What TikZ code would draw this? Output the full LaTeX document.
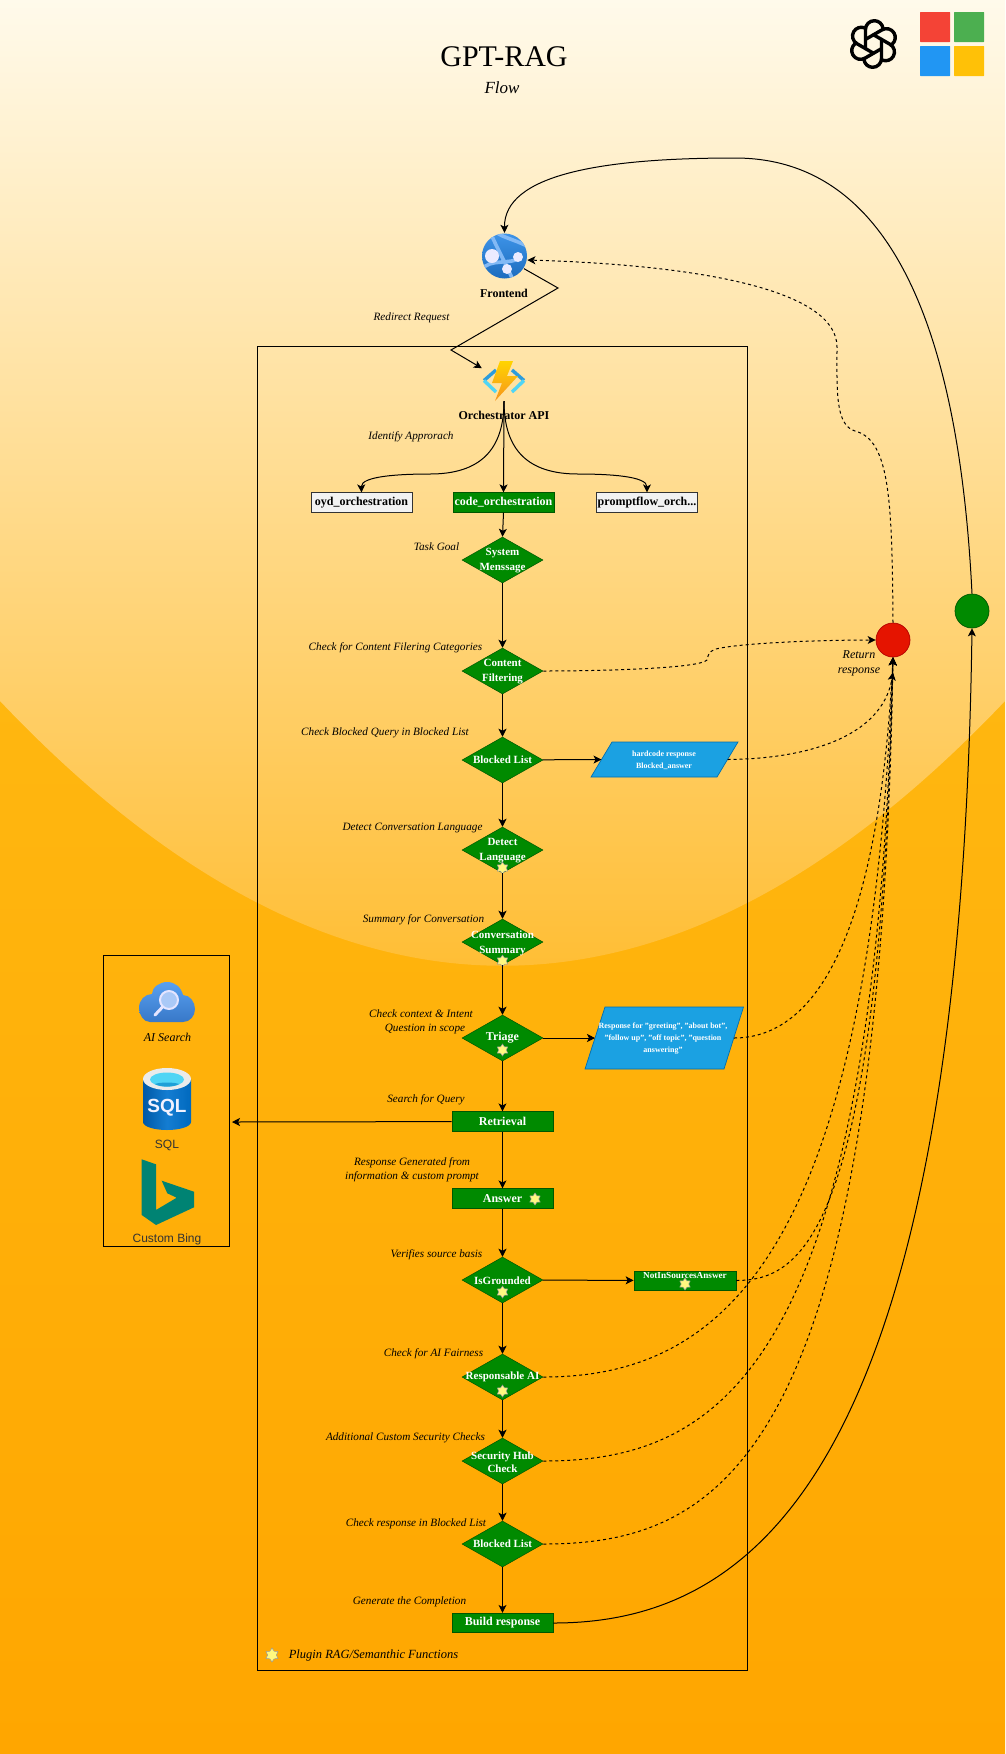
\documentclass[tikz,border=0pt]{standalone}
\usepackage{fontspec}
\setmainfont{Liberation Serif}
\setsansfont{Liberation Sans}
\usetikzlibrary{arrows.meta,positioning,shapes.geometric,calc}
\definecolor{raggreen}{HTML}{008A00}
\definecolor{ragdkgreen}{HTML}{005700}
\definecolor{ragblue}{HTML}{1BA1E2}
\definecolor{ragdkblue}{HTML}{006EAF}
\definecolor{ragred}{HTML}{E51400}
\definecolor{ragdkred}{HTML}{B20000}
\definecolor{ragteal}{HTML}{008373}
\definecolor{bgtop}{HTML}{FFFAEB}
\definecolor{bgmid}{HTML}{FFBE35}
\definecolor{bglow}{HTML}{FFB710}
\definecolor{bgend}{HTML}{FFA600}
\tikzset{
  flow/.style={-{Stealth[length=8pt,width=8pt,inset=2pt]},line width=1pt,black},
  retflow/.style={flow,dash pattern=on 3pt off 3pt},
  dmd/.style={diamond,aspect=1.76,minimum width=81pt,minimum height=46pt,inner sep=0pt,
    fill=raggreen,draw=ragdkgreen,line width=.5pt},
  dmdtxt/.style={text=white,align=center,font=\fontsize{11}{15}\selectfont\bfseries},
  stepbox/.style={rectangle,minimum width=101pt,minimum height=19.5pt,inner sep=0pt,
    fill=raggreen,draw=ragdkgreen,line width=.7pt,text=white,
    font=\fontsize{12}{14}\selectfont\bfseries},
  altbox/.style={stepbox,fill=white!95!black,draw=black!80,text=black},
  parabox/.style={fill=ragblue,draw=ragdkblue,line width=.7pt},
  paratxt/.style={text=white,align=center,font=\fontsize{8}{12}\selectfont\bfseries},
  note/.style={align=center,inner sep=0pt,font=\fontsize{11.2}{14}\selectfont\itshape},
  plugstar/.style={star,star points=6,star point ratio=1.6,minimum size=12pt,inner sep=0pt,
    fill=yellow!50!white,draw=black!40,line width=.5pt},
  iconlbl/.style={inner sep=0pt,font=\fontsize{12}{14}\selectfont\sffamily,text=black!80},
  dot/.style={circle,minimum size=34pt,inner sep=0pt,line width=.7pt},
}
\begin{document}
\begin{tikzpicture}[x=1pt,y=-1pt]
  \useasboundingbox (0,0) rectangle (1005,1754);

  % ---- Background ----------------------------------------------
  \shade[top color=bglow,bottom color=bgend] (0,690) rectangle (1005,1754);
  \begin{scope}
    \clip (0,0) -- (0,701) .. controls (335,1054) and (670,1054) .. (1005,701) -- (1005,0) -- cycle;
    \shade[top color=bgtop,bottom color=bgmid] (0,0) rectangle (1005,966);
  \end{scope}

  % ---- Title and logos -----------------------------------------
  \node[font=\fontsize{30}{34}\selectfont,inner sep=0pt] (title) at (504,57) {GPT-RAG};
  \node[font=\fontsize{17}{20}\selectfont\itshape,inner sep=0pt] (subtitle) at (502,88) {Flow};
  % OpenAI knot
  \foreach \a in {0,60,...,300}{
    \draw[black,line width=3.4pt,line cap=round,line join=round,shift={(873.5,44)},rotate=\a]
      (8,-4.6) -- (8,14.5) arc (0:172:8.8);
  }
  % Four squares
  \fill[rounded corners=.5pt,fill={rgb,255:red,244;green,67;blue,54}] (920,12) rectangle (950,42);
  \fill[rounded corners=.5pt,fill={rgb,255:red,76;green,175;blue,80}] (954,12) rectangle (984,42);
  \fill[rounded corners=.5pt,fill={rgb,255:red,33;green,150;blue,243}] (920,46) rectangle (950,76);
  \fill[rounded corners=.5pt,fill={rgb,255:red,255;green,193;blue,7}] (954,46) rectangle (984,76);

  % ---- Plugin frame --------------------------------------------
  \draw[black,line width=1pt] (257,346) rectangle (747.5,1670);

  % ---- Frontend icon -------------------------------------------
  \node[circle,minimum size=46pt,inner sep=0pt] (front) at (504.5,256) {};
  \begin{scope}
    \clip (504.5,256) circle (22.5);
    \shade[top color={rgb,255:red,62;green,148;blue,232},bottom color={rgb,255:red,28;green,108;blue,190}]
      (482,233) rectangle (527,279);
    \draw[line width=3.6pt,color={rgb,255:red,130;green,185;blue,245}]
      (491,234) .. controls (498,250) and (505,262) .. (512,278)
      (527,246) .. controls (515,240) and (505,238) .. (497,233)
      (481,270) .. controls (490,258) and (510,265) .. (520,258);
  \end{scope}
  \fill[white!92!blue] (492,256) circle (7);
  \fill[white!92!blue] (518,257) circle (5);
  \fill[white!92!blue] (507,269) circle (5);
  \node[font=\fontsize{12}{14}\selectfont\bfseries,inner sep=0pt] (frontlbl) at (504,293) {Frontend};

  % ---- Orchestrator icon ---------------------------------------
  \node[rectangle,minimum width=44pt,minimum height=40pt,inner sep=0pt] (orch) at (504,381) {};
  \draw[line width=3.4pt,color={rgb,255:red,45;green,156;blue,219}] (496,370) -- (484,380.5) (512,370) -- (524,380.5);
  \draw[line width=3.4pt,color={rgb,255:red,80;green,213;blue,245}] (484,380.5) -- (496,392) (524,380.5) -- (512,392);
  \shade[top color={rgb,255:red,255;green,212;blue,0},bottom color={rgb,255:red,247;green,148;blue,29}]
    (500,361) -- (513,361) -- (507,376) -- (518,376) -- (495,401) -- (502,383) -- (492,383) -- cycle;
  \node[font=\fontsize{12}{14}\selectfont\bfseries,inner sep=0pt] (orchlbl) at (504,415) {Orchestrator API};

  % ---- Orchestration choices -----------------------------------
  \node[altbox] (oyd) at (361.5,502.5) {oyd\_orchestration};
  \node[stepbox] (code) at (503.5,502.5) {code\_orchestration};
  \node[altbox] (pflow) at (647,502.5) {promptflow\_orch...};

  % ---- Main column ---------------------------------------------
  \node[dmd] (sysmsg) at (502.5,560) {};
  \node[dmdtxt] (sysmsgtxt) at (502.5,560.5) {System\\Menssage};
  \node[dmd] (filter) at (502.5,671) {};
  \node[dmdtxt] (filtertxt) at (502.5,672) {Content\\Filtering};
  \node[dmd] (blockq) at (502.5,760) {};
  \node[dmdtxt] (blockqtxt) at (502.5,759.5) {Blocked List};
  \node[dmd] (detect) at (502.5,850) {};
  \node[dmdtxt] (detecttxt) at (502.5,851) {Detect\\Language};
  \node[plugstar] (stardetect) at (502.5,868) {};
  \node[dmd] (summary) at (502.5,942) {};
  \node[dmdtxt] (summarytxt) at (502.5,943) {Conversation\\Summary};
  \node[plugstar] (starsummary) at (502.5,961) {};
  \node[dmd] (triage) at (502.5,1038) {};
  \node[dmdtxt,font=\fontsize{12}{14}\selectfont\bfseries] (triagetxt) at (502.5,1037.5) {Triage};
  \node[plugstar] (startriage) at (502.5,1050) {};
  \node[stepbox] (retr) at (502.5,1121.5) {Retrieval};
  \node[stepbox] (answer) at (502.5,1198.5) {Answer};
  \node[plugstar] (staranswer) at (535,1199) {};
  \node[dmd] (grounded) at (502.5,1280) {};
  \node[dmdtxt] (groundedtxt) at (502.5,1280.5) {IsGrounded};
  \node[plugstar] (stargrounded) at (502.5,1292) {};
  \node[dmd] (respai) at (502.5,1377) {};
  \node[dmdtxt] (respaitxt) at (502.5,1377) {Responsable AI};
  \node[plugstar] (starrespai) at (502.5,1391) {};
  \node[dmd] (sechub) at (502.5,1461) {};
  \node[dmdtxt,font=\fontsize{11}{12.5}\selectfont\bfseries] (sechubtxt) at (502.5,1462) {Security Hub\\Check};
  \node[dmd] (blockr) at (502.5,1544) {};
  \node[dmdtxt] (blockrtxt) at (502.5,1544) {Blocked List};
  \node[stepbox] (build) at (502.5,1623) {Build response};

  % ---- Side outputs --------------------------------------------
  \draw[parabox] (612,742) -- (738,742) -- (717,777) -- (591,777) -- cycle;
  \coordinate (hardcin) at (601.5,759.5);
  \coordinate (hardcout) at (727.5,759.5);
  \node[paratxt] (hardc) at (664,760) {hardcode response\\Blocked\_answer};
  \draw[parabox] (605,1007) -- (743.5,1007) -- (724,1069) -- (585,1069) -- cycle;
  \coordinate (respin) at (595,1038);
  \coordinate (respout) at (734,1038);
  \node[paratxt] (resp) at (663,1039) {Response for "greeting", "about bot",\\"follow up", "off topic", "question\\answering"};
  \node[stepbox,minimum width=102pt,minimum height=19pt] (notin) at (685,1280.5) {};
  \node[dmdtxt,font=\fontsize{9.2}{12}\selectfont\bfseries] (notintxt) at (685,1275) {NotInSourcesAnswer};
  \node[plugstar] (starnotin) at (685,1284) {};

  % ---- Return points -------------------------------------------
  \node[dot,fill=ragred,draw=ragdkred] (retn) at (893,640) {};
  \node[dot,fill=raggreen,draw=ragdkgreen] (done) at (972,611) {};
  \node[note,font=\fontsize{12}{15}\selectfont\itshape] (retnlbl) at (859,663.5) {Return\\response};

  % ---- Data sources --------------------------------------------
  \draw[black,line width=1pt] (103,955) rectangle (229,1246);
  \coordinate (srcedge) at (232,1122);
  % Cloud with lens
  \shade[top color={rgb,255:red,88;green,160;blue,240},bottom color={rgb,255:red,56;green,120;blue,200}]
    (150,1022) .. controls (143,1022) and (139,1014) .. (139,1008)
    .. controls (139,1000) and (145,994) .. (152,994)
    .. controls (152,987) and (160,982) .. (167,982)
    .. controls (175,982) and (181,987) .. (183,995)
    .. controls (190,995) and (195,1002) .. (195,1009)
    .. controls (195,1016) and (190,1022) .. (183,1022) -- cycle;
  \draw[white!90!blue,line width=2pt,fill={rgb,255:red,170;green,201;blue,247}] (169,1000) circle (9);
  \draw[white!90!blue,line width=3pt,line cap=round] (162.5,1007) -- (155,1015);
  \node[font=\fontsize{12}{14}\selectfont\itshape,inner sep=0pt] (searchlbl) at (167.5,1037) {AI Search};
  % Cylinder
  \shade[left color={rgb,255:red,0;green,88;blue,165},right color={rgb,255:red,0;green,105;blue,190},middle color={rgb,255:red,20;green,125;blue,210}]
    (143,1079) -- (143,1122) arc (180:0:24 and 8) -- (191,1079) -- cycle;
  \fill[black!8] (167,1079) ellipse (24 and 11);
  \fill[color={rgb,255:red,80;green,213;blue,245}] (167,1079.5) ellipse (17 and 7);
  \fill[color={rgb,255:red,30;green,160;blue,215}] (155,1084) .. controls (160,1082) and (174,1082) .. (179,1084)
    .. controls (174,1087.5) and (160,1087.5) .. (155,1084) -- cycle;
  \node[font=\fontsize{19}{20}\selectfont\sffamily\bfseries,text=white!95!blue,inner sep=0pt] (sqltxt) at (167,1108) {SQL};
  \node[iconlbl] (sqllbl) at (167,1145) {SQL};
  % Bing mark
  \fill[ragteal] (141.7,1159.3) -- (156,1164.3) -- (156,1210) -- (176.7,1197.7) -- (167.3,1193.3)
    -- (161.7,1180.7) -- (194,1191.7) -- (194,1207.3) -- (156,1225) -- (141.7,1215) -- cycle;
  \node[iconlbl] (binglbl) at (167,1239) {Custom Bing};

  % ---- Captions ------------------------------------------------
  \node[note] (capredir) at (411.5,318) {Redirect Request};
  \node[note] (capident) at (411,437) {Identify Approrach};
  \node[note] (capgoal) at (436.5,547) {Task Goal};
  \node[note] (capfilter) at (395.5,648) {Check for Content Filering Categories};
  \node[note] (capblockq) at (385,733) {Check Blocked Query in Blocked List};
  \node[note] (capdetect) at (412.5,828) {Detect Conversation Language};
  \node[note] (capsummary) at (423.5,920) {Summary for Conversation};
  \node[note] (capintent) at (421,1022) {Check context \& Intent\\\hspace*{8pt}Question in scope};
  \node[note] (capsearch) at (426,1100) {Search for Query};
  \node[note] (capresp) at (412,1170) {Response Generated from\\information \& custom prompt};
  \node[note] (capverify) at (436.5,1255) {Verifies source basis};
  \node[note] (capfair) at (433.5,1354) {Check for AI Fairness};
  \node[note] (capsec) at (405.5,1438) {Additional Custom Security Checks};
  \node[note] (capblockr) at (416,1524) {Check response in Blocked List};
  \node[note] (capgen) at (409.5,1602) {Generate the Completion};
  \node[plugstar,minimum size=14pt] (starlegend) at (272,1655) {};
  \node[note,font=\fontsize{12.5}{14}\selectfont\itshape] (legend) at (373.5,1655) {Plugin RAG/Semanthic Functions};

  % ---- Connectors: entry ---------------------------------------
  \coordinate (bendA) at (558,288);
  \coordinate (bendB) at (451,350);
  \draw[flow] (front.-33) -- (bendA) -- (bendB) -- (orch.150);
  \draw[flow] (orch.south) .. controls (504,450) and (480,474) .. (430,474)
    .. controls (400,474) and (361,476) .. (oyd.north);
  \draw[flow] (orch.south) -- (code.north);
  \draw[flow] (orch.south) .. controls (504,450) and (528,474) .. (578,474)
    .. controls (608,474) and (647,476) .. (pflow.north);

  % ---- Connectors: main column ---------------------------------
  \draw[flow] (code.south) -- (sysmsg.north);
  \draw[flow] (sysmsg) -- (filter);
  \draw[flow] (filter) -- (blockq);
  \draw[flow] (blockq) -- (detect);
  \draw[flow] (detect) -- (summary);
  \draw[flow] (summary) -- (triage);
  \draw[flow] (triage) -- (retr);
  \draw[flow] (retr) -- (answer);
  \draw[flow] (answer) -- (grounded);
  \draw[flow] (grounded) -- (respai);
  \draw[flow] (respai) -- (sechub);
  \draw[flow] (sechub) -- (blockr);
  \draw[flow] (blockr) -- (build);
  \draw[flow] (blockq) -- (hardcin);
  \draw[flow] (triage) -- (respin);
  \draw[flow] (grounded) -- (notin);
  \draw[flow] (retr) -- (srcedge);

  % ---- Connectors: returns -------------------------------------
  \draw[retflow] (filter.east) .. controls (610,671) and (700,668) .. (707,660)
    .. controls (709,652) .. (716,649) .. controls (740,643) and (820,640) .. (retn.west);
  \draw[retflow] (hardcout) .. controls (800,759) and (882,740) .. ($(retn.south)+(0,15)$);
  \draw[retflow] (respout) .. controls (810,1038) and (878,950) .. (retn.south);
  \draw[retflow] (notin.east) .. controls (800,1280) and (880,1240) .. (retn.south);
  \draw[retflow] (respai.east) .. controls (720,1377) and (870,1260) .. (retn.south);
  \draw[retflow] (sechub.east) .. controls (720,1461) and (875,1370) .. (retn.south);
  \draw[retflow] (blockr.east) .. controls (720,1544) and (880,1460) .. (retn.south);
  \draw[retflow] (retn.north) .. controls (892,500) and (890,440) .. (855,431)
    .. controls (835,425) and (837,390) .. (837,347)
    .. controls (837,290) and (700,265) .. (front.-10);
  \draw[flow] (build.east) .. controls (750,1623) and (960,1480) .. (done.south);
  \draw[flow] (done.north) .. controls (960,350) and (900,158) .. (735,158)
    .. controls (600,158) and (504,175) .. (front.north);
\end{tikzpicture}
\end{document}
